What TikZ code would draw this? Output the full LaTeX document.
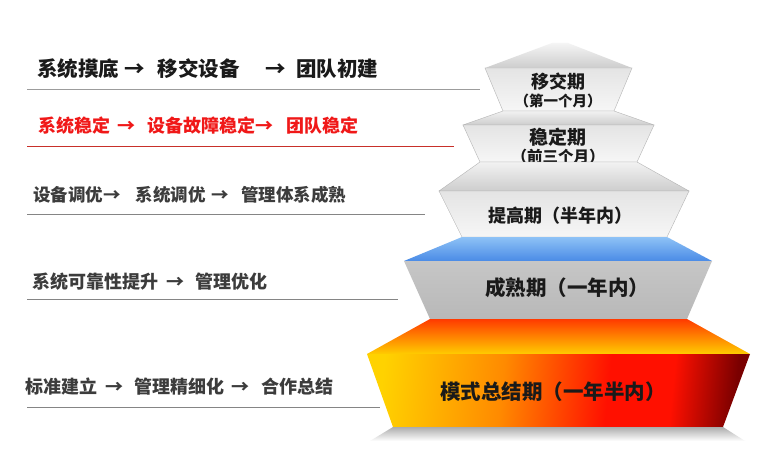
\documentclass[tikz,border=0pt]{standalone}
\usepackage{fontspec}
\usetikzlibrary{positioning}
\newfontfamily\cjk{Noto Sans CJK SC}
\definecolor{notegray}{HTML}{3C3C3C}
\definecolor{noteblack}{HTML}{1A1A1A}
\definecolor{notered}{HTML}{F01818}
\definecolor{linegray}{HTML}{9C9C9C}
\definecolor{linered}{HTML}{C8302A}
\definecolor{edgegray}{HTML}{B4B4B4}
\definecolor{greyback}{HTML}{F2F2F2}
\definecolor{greyfront}{HTML}{CDCDCD}
\definecolor{facetop}{HTML}{E4E4E4}
\definecolor{facebottom}{HTML}{F6F6F6}
\definecolor{blueback}{HTML}{8EC2F6}
\definecolor{bluefront}{HTML}{4A8BE6}
\definecolor{maturetop}{HTML}{C6C6C6}
\definecolor{maturebottom}{HTML}{B8B8B8}
\definecolor{sumback}{HTML}{FF3A00}
\definecolor{sumfront}{HTML}{FFCC00}
\definecolor{sumyellow}{HTML}{FFD200}
\definecolor{sumorange}{HTML}{FF8A00}
\definecolor{sumred}{HTML}{FF1000}
\definecolor{sumdark}{HTML}{7A0000}
\pgfdeclarehorizontalshading{sumshade}{100bp}{color(0bp)=(sumyellow); color(25bp)=(sumyellow); color(42bp)=(sumorange); color(57bp)=(sumred); color(66bp)=(sumred); color(75bp)=(sumdark); color(100bp)=(sumdark)}
\tikzset{
  note/.style={anchor=west, inner sep=0pt, text=notegray,
    font=\cjk\bfseries\fontsize{18}{20}\selectfont},
  sepline/.style={draw=linegray, line width=0.9pt},
  face/.style={draw=edgegray, line width=0.4pt},
  greytop/.style={face, top color=greyback, bottom color=greyfront},
  greyfront/.style={face, top color=facetop, bottom color=facebottom},
  phase/.style={inner sep=0pt, text=noteblack,
    font=\cjk\bfseries\fontsize{18}{20}\selectfont},
  phasesub/.style={phase, font=\cjk\bfseries\fontsize{14.5}{16}\selectfont},
}

\begin{document}
\begin{tikzpicture}[x=1pt, y=-1pt]
  \useasboundingbox[fill=white] (0,0) rectangle (761,460);

  \node[note, text=noteblack, font=\cjk\bfseries\fontsize{20.5}{22}\selectfont] (n1) at (37,69) {系统摸底\hspace{5pt}→\hspace{13pt}移交设备\hspace{26pt}→\hspace{10pt}团队初建};
  \draw[sepline] (27,89) coordinate (l1a) -- (480,89) coordinate (l1b);
  \node[note, text=notered] (n2) at (38,126) {系统稳定\hspace{7pt}→\hspace{12pt}设备故障稳定→\hspace{13pt}团队稳定};
  \draw[sepline, draw=linered] (27,146) coordinate (l2a) -- (454,146) coordinate (l2b);
  \node[note, font=\cjk\bfseries\fontsize{17.5}{20}\selectfont] (n3) at (33,195) {设备调优→\hspace{15pt}系统调优\hspace{6pt}→\hspace{12pt}管理体系成熟};
  \draw[sepline, draw=linegray!85!black] (27,214) coordinate (l3a) -- (425,214) coordinate (l3b);
  \node[note] (n4) at (32,282) {系统可靠性提升\hspace{8pt}→\hspace{11pt}管理优化};
  \draw[sepline, draw=linegray!85!black] (27,299) coordinate (l4a) -- (398,299) coordinate (l4b);
  \node[note] (n5) at (25,387) {标准建立\hspace{8pt}→\hspace{11pt}管理精细化\hspace{7pt}→\hspace{12pt}合作总结};
  \draw[sepline, draw=linegray!85!black] (27,407) coordinate (l5a) -- (380,407) coordinate (l5b);

  \shade[top color=greyback!80!white, bottom color=greyfront] (552,43) -- (568,43) -- (632,68) -- (485,68) -- cycle;
  \shade[greyfront] (485,68) -- (632,68) -- (614,111) -- (503,111) -- cycle;
  \node[phase] (p1) at (558,82) {移交期};
  \node[phasesub] (p1s) at (558,101) {（第一个月）};

  \shade[greytop] (503,111) -- (614,111) -- (654,125) -- (463,125) -- cycle;
  \shade[greyfront] (463,125) -- (654,125) -- (637,162) -- (480,162) -- cycle;
  \node[phase, font=\cjk\bfseries\fontsize{19}{21}\selectfont] (p2) at (558,137) {稳定期};
  \node[phasesub, font=\cjk\bfseries\fontsize{15.5}{17}\selectfont] (p2s) at (558,157) {（前三个月）};

  \shade[greytop] (480,162) -- (637,162) -- (689,191) -- (439,191) -- cycle;
  \shade[greyfront] (439,191) -- (689,191) -- (667,237) -- (462,237) -- cycle;
  \node[phase] (p3) at (560,216) {提高期（半年内）};

  \shade[face, draw=none, top color=blueback, bottom color=bluefront] (462,237) -- (667,237) -- (712,261) -- (404,261) -- cycle;
  \shade[face, draw=none, top color=maturetop, bottom color=maturebottom] (404,261) -- (712,261) -- (687,319) -- (430,319) -- cycle;
  \node[phase, font=\cjk\bfseries\fontsize{20.5}{22}\selectfont] (p4) at (567,288) {成熟期（一年内）};

  \shade[top color=sumback, bottom color=sumfront] (430,319) -- (687,319) -- (750,354) -- (367,354) -- cycle;
  \shade[shading=sumshade, shading angle=-6] (367,354) -- (750,354) -- (723,427) -- (393,427) -- cycle;
  \node[phase, font=\cjk\bfseries\fontsize{20.5}{22}\selectfont] (p5) at (553,392) {模式总结期（一年半内）};

  \shade[top color=gray!65, bottom color=white] (393,427) -- (723,427) -- (745,441) -- (370,441) -- cycle;
\end{tikzpicture}
\end{document}
